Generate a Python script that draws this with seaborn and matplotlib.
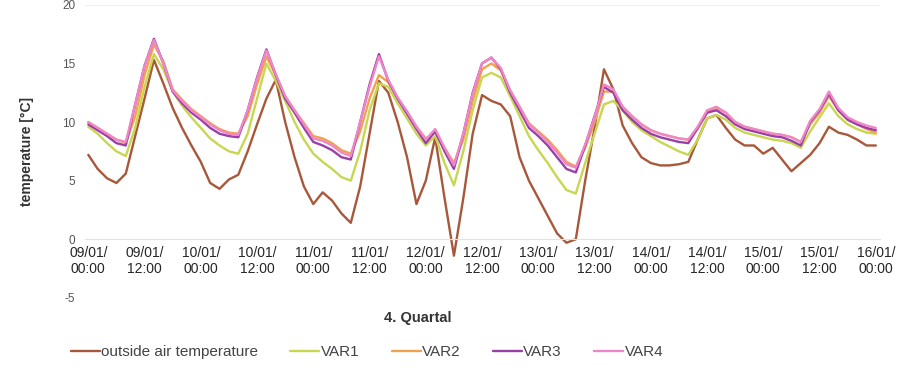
import matplotlib
matplotlib.use("Agg")
import matplotlib.pyplot as plt
import seaborn as sns
import pandas as pd

# Zeitachse: 2-stündliche Werte, 09/01 00:00 bis 16/01 00:00
times = pd.date_range("2019-01-09 00:00", "2019-01-16 00:00", freq="2h")

outside = [7.2, 6.0, 5.2, 4.8, 5.6, 8.8, 12.0, 15.3, 13.3, 11.2,
           9.5, 8.0, 6.6, 4.8, 4.3, 5.1, 5.5, 7.5, 9.8, 12.0,
           13.6, 10.0, 7.0, 4.5, 3.0, 4.0, 3.3, 2.2, 1.4, 4.5,
           9.0, 13.5, 12.5, 10.0, 7.0, 3.0, 5.0, 8.7, 3.5, -1.4,
           3.5, 9.0, 12.3, 11.8, 11.5, 10.5, 7.0, 5.0, 3.5, 2.0,
           0.5, -0.3, 0.0, 5.0, 9.5, 14.5, 12.8, 9.7, 8.2, 7.0,
           6.5, 6.3, 6.3, 6.4, 6.6, 8.5, 10.3, 10.6, 9.5, 8.5,
           8.0, 8.0, 7.3, 7.8, 6.8, 5.8, 6.5, 7.2, 8.2, 9.6,
           9.1, 8.9, 8.5, 8.0, 8.0]

var1 = [9.6, 9.0, 8.2, 7.5, 7.1, 9.5, 13.0, 15.8, 14.5, 12.6,
        11.4, 10.4, 9.5, 8.6, 8.0, 7.5, 7.3, 9.0, 12.0, 15.0,
        13.5, 11.8, 10.0, 8.5, 7.3, 6.6, 6.0, 5.3, 5.0, 7.5,
        11.0, 13.3, 13.0, 11.6, 10.3, 9.0, 8.0, 8.8, 6.5, 4.6,
        7.5, 11.0, 13.8, 14.2, 13.8, 12.2, 10.5, 8.8, 7.6, 6.5,
        5.3, 4.2, 3.9, 6.5, 9.0, 11.5, 11.8, 11.0, 10.0, 9.3,
        8.8, 8.3, 7.9, 7.5, 7.2, 8.5, 10.3, 10.6, 10.2, 9.5,
        9.1, 8.9, 8.7, 8.5, 8.4, 8.2, 7.8, 9.2, 10.4, 11.6,
        10.5, 9.8, 9.4, 9.1, 9.0]

var2 = [10.0, 9.5, 9.0, 8.5, 8.2, 10.5, 14.0, 16.6, 15.2, 12.8,
        11.9, 11.1, 10.5, 9.9, 9.4, 9.1, 9.0, 10.5, 13.2, 15.6,
        14.0, 12.2, 11.0, 9.9, 8.8, 8.6, 8.2, 7.6, 7.3, 9.2,
        12.0, 14.0, 13.4, 12.0, 10.9, 9.6, 8.6, 9.1, 7.8, 6.5,
        8.5, 11.8, 14.5, 15.0, 14.4, 12.7, 11.3, 9.9, 9.2, 8.5,
        7.6, 6.6, 6.2, 7.8, 10.0, 12.6, 12.6, 11.3, 10.5, 9.8,
        9.3, 9.0, 8.8, 8.6, 8.5, 9.4, 10.8, 11.2, 10.8, 10.0,
        9.6, 9.4, 9.2, 9.0, 8.9, 8.7, 8.3, 9.8, 10.8, 12.2,
        11.0, 10.2, 9.8, 9.4, 9.1]

var3 = [9.8, 9.3, 8.8, 8.2, 8.0, 11.5, 14.8, 17.1, 15.0, 12.6,
        11.6, 10.8, 10.2, 9.5, 9.0, 8.8, 8.7, 11.0, 13.8, 16.2,
        14.0, 12.0, 10.8, 9.5, 8.3, 8.0, 7.6, 7.0, 6.8, 10.0,
        13.2, 15.8, 13.5, 12.0, 10.7, 9.4, 8.2, 9.2, 7.5, 6.0,
        9.0, 12.5, 15.0, 15.5, 14.5, 12.5, 11.0, 9.5, 8.8, 8.0,
        7.0, 6.0, 5.7, 8.0, 10.5, 13.0, 12.5, 11.0, 10.2, 9.5,
        9.0, 8.7, 8.5, 8.3, 8.2, 9.5, 10.8, 11.0, 10.5, 9.8,
        9.4, 9.2, 9.0, 8.8, 8.7, 8.4, 8.0, 10.0, 11.0, 12.4,
        11.0, 10.2, 9.8, 9.5, 9.3]

var4 = [10.0, 9.5, 9.0, 8.5, 8.3, 11.5, 14.8, 17.0, 15.0, 12.7,
        11.8, 11.0, 10.4, 9.8, 9.3, 9.0, 8.9, 11.0, 13.7, 16.1,
        14.1, 12.2, 11.0, 9.8, 8.6, 8.4, 8.0, 7.4, 7.1, 10.0,
        13.0, 15.6, 13.6, 12.1, 10.9, 9.6, 8.5, 9.4, 7.8, 6.3,
        9.0, 12.4, 15.0, 15.5, 14.6, 12.7, 11.3, 9.8, 9.1, 8.3,
        7.4, 6.4, 6.1, 8.1, 10.4, 13.2, 12.8, 11.3, 10.5, 9.8,
        9.3, 9.0, 8.8, 8.6, 8.5, 9.6, 11.0, 11.3, 10.8, 10.0,
        9.6, 9.4, 9.2, 9.0, 8.9, 8.7, 8.3, 10.1, 11.1, 12.6,
        11.2, 10.4, 10.0, 9.7, 9.5]

series_names = ["outside air temperature", "VAR1", "VAR2", "VAR3", "VAR4"]
colors = ["#a8583a", "#c9d650", "#f2a24e", "#9a3fa8", "#ee86c8"]

df = pd.DataFrame({"time": times, "outside air temperature": outside,
                   "VAR1": var1, "VAR2": var2, "VAR3": var3, "VAR4": var4})
long = df.melt(id_vars="time", var_name="series", value_name="temp")

sns.set_style("white")
plt.rcParams["font.family"] = ["Liberation Sans", "DejaVu Sans"]
plt.rcParams["axes.unicode_minus"] = False

fig = plt.figure(figsize=(9.06, 3.70), dpi=100)
ax = fig.add_axes([0.094, 0.195, 0.877, 0.792])

sns.lineplot(data=long, x="time", y="temp", hue="series", hue_order=series_names,
             palette=dict(zip(series_names, colors)), linewidth=1.7, ax=ax, legend=True)

ax.set_ylim(-5, 20)
ax.set_yticks([-5, 0, 5, 10, 15, 20])
ax.set_xlim(times[0] - pd.Timedelta(minutes=40), times[-1] + pd.Timedelta(minutes=50))
ticks = pd.date_range("2019-01-09", "2019-01-16", freq="12h")
ax.set_xticks(ticks)
ax.set_xticklabels([f"{d:%d/%m}/\n{d:%H:%M}" for d in ticks], fontsize=7, color="#555555",
                   linespacing=0.7)
ax.tick_params(axis="y", labelsize=8.5, colors="#555555", length=0, pad=7)
ax.tick_params(axis="x", length=0, pad=5)

for v in [-5, 20]:
    ax.axhline(v, color="#eeeeee", linewidth=0.8, zorder=0)
for s in ["top", "right", "left"]:
    ax.spines[s].set_visible(False)
ax.spines["bottom"].set_position(("data", 0))
ax.spines["bottom"].set_color("#e2e2e2")
ax.spines["bottom"].set_linewidth(0.8)

ax.set_xlabel("")
ax.set_ylabel("temperature [°C]", fontsize=10, fontweight="bold", color="#333333", labelpad=20)

fig.text(0.461, 0.14, "4. Quartal", fontsize=10.5, fontweight="bold", color="#333333",
         ha="center", va="center")

handles, labels = ax.get_legend_handles_labels()
ax.get_legend().remove()
fig.legend(handles, labels, loc="center", bbox_to_anchor=(0.405, 0.048), ncol=5, frameon=False,
           fontsize=11, handlelength=1.9, handletextpad=0.1, columnspacing=2.1,
           labelcolor="#444444")

fig.savefig("out.png", dpi=100, facecolor="white")
